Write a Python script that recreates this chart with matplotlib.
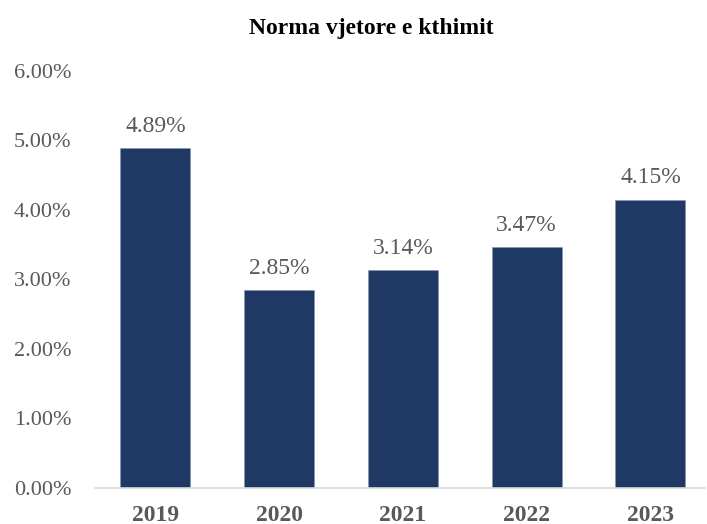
import matplotlib.pyplot as plt
from matplotlib.ticker import FuncFormatter

# data
years = ['2019', '2020', '2021', '2022', '2023']
rates = [4.89, 2.85, 3.14, 3.47, 4.15]
yticks = [0, 1, 2, 3, 4, 5, 6]

bar_color = '#203864'
text_gray = '#595959'

plt.rcParams['font.family'] = ['Liberation Serif', 'DejaVu Serif']

fig = plt.figure(figsize=(7.07, 5.24), dpi=100)
ax = fig.add_axes([0.134, 0.0687, 0.863, 0.796])

x = range(len(years))
bars = ax.bar(x, rates, width=0.565, color=bar_color, edgecolor='#8497b0', linewidth=0.4)

# value labels above bars
for b, v in zip(bars, rates):
    ax.text(b.get_x() + b.get_width() / 2, v + 0.16, f'{v:.2f}%',
            ha='center', va='bottom', fontsize=17, color=text_gray)

ax.set_xlim(-0.49, 4.44)
ax.set_ylim(0, 6)
ax.set_yticks(yticks)
ax.yaxis.set_major_formatter(FuncFormatter(lambda v, p: f'{v:.2f}%'))
ax.set_xticks(list(x))
ax.set_xticklabels(years, fontweight='bold')

ax.tick_params(axis='y', length=0, pad=17, labelsize=16, labelcolor=text_gray)
ax.tick_params(axis='x', length=0, pad=12, labelsize=17, labelcolor=text_gray)

for s in ['top', 'right', 'left']:
    ax.spines[s].set_visible(False)
ax.spines['bottom'].set_color('#d9d9d9')
ax.spines['bottom'].set_linewidth(1.2)

fig.text(0.525, 0.945, 'Norma vjetore e kthimit', ha='center', va='center',
         fontsize=17, fontweight='bold', color='black')

fig.savefig('out.png', dpi=100)
